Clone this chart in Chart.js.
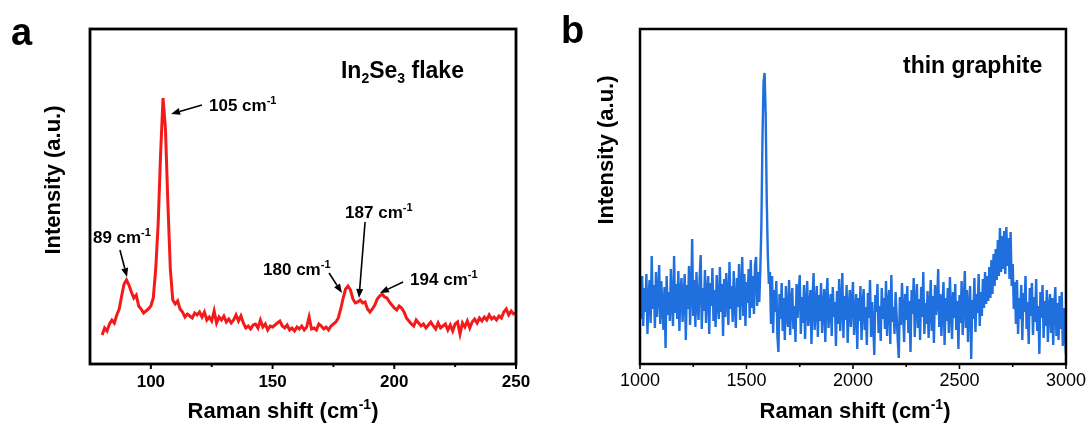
<!DOCTYPE html>
<html lang="en">
<head>
<meta charset="UTF-8" />
<title>Raman spectra - In2Se3 flake and thin graphite</title>
<script src="https://cdn.jsdelivr.net/npm/chart.js"></script>
<style>
  body { margin: 0; background: #fff; }
  .row { display: flex; width: 1092px; height: 425px; }
  canvas { display: block; }
</style>
</head>
<body>
<div class="row">
  <canvas id="chartA" width="546" height="425"></canvas>
  <canvas id="chartB" width="546" height="425"></canvas>
</div>
<script>
// ---- panel a : In2Se3 flake (1 cm-1 steps from 80 to 250) ----
const in2se3Start = 80;
const in2se3Step = 1;
const in2se3Intensity = [
  29, 36, 33, 40, 44, 41, 49, 55, 68, 80,
  84, 79, 72, 66, 69, 58, 55, 51, 53, 55,
  58, 66, 95, 140, 210, 266, 235, 160, 95, 64,
  60, 63, 55, 52, 47, 50, 48, 46, 51, 49,
  52, 47, 52, 44, 47, 43, 53, 41, 47, 44,
  48, 42, 45, 41, 44, 49, 43, 48, 41, 36,
  38, 35, 39, 40, 36, 44, 37, 40, 34, 38,
  37, 39, 41, 43, 38, 36, 39, 34, 36, 33,
  37, 35, 38, 34, 37, 47, 35, 36, 34, 40,
  38, 35, 37, 34, 38, 40, 42, 46, 55, 66,
  75, 78, 74, 65, 61, 62, 64, 61, 62, 55,
  52, 55, 59, 65, 68, 70, 67, 66, 62, 59,
  56, 54, 58, 56, 52, 46, 43, 40, 38, 44,
  41, 38, 40, 36, 39, 42, 38, 35, 41, 36,
  38, 40, 34, 39, 33, 40, 42, 30, 41, 37,
  43, 36, 42, 45, 41, 46, 43, 47, 44, 49,
  45, 47, 44, 48, 46, 52, 55, 49, 53, 50,
  51
];
const in2se3MajorTicks = [100, 150, 200, 250];
const in2se3MinorTicks = [125, 175, 225];
const in2se3PeakLabels = ['89', '105', '180', '187', '194'];

// ---- panel b : thin graphite (5 cm-1 steps from 1000 to 3000) ----
const graphiteStart = 1000;
const graphiteStep = 5;
const graphiteIntensity = [
  70, 45, 88, 38, 76, 52, 90, 30, 66, 84,
  41, 108, 55, 79, 36, 92, 47, 70, 99, 40,
  83, 58, 34, 77, 16, 88, 49, 72, 43, 95,
  60, 38, 108, 51, 80, 45, 93, 33, 74, 86,
  42, 67, 90, 24, 79, 55, 98, 39, 71, 125,
  48, 84, 37, 92, 61, 44, 87, 109, 35, 76,
  53, 94, 41, 70, 88, 30, 81, 58, 96, 43,
  74, 37, 89, 62, 45, 97, 52, 80, 28, 85,
  47, 91, 66, 39, 102, 55, 78, 42, 93, 60,
  36, 86, 57, 100, 44, 73, 107, 48, 90, 38,
  82, 61, 95, 46, 104, 56, 88, 50, 99, 107, 58, 92,
  // G band
  62, 95, 140, 225, 282, 291, 250, 165, 110, 80, 92,
  40, 88, 31, 74, 52, 83, 28,
  12, 70, 45, 81, 33, 66, 24, 78, 50, 37,
  84, 29, 62, 76, 35, 58, 22, 80, 46, 71,
  89, 30, 67, 41, 79, 25, 60, 83, 38, 55,
  74, 20, 65, 91, 34, 57, 78, 27, 69, 43,
  81, 31, 58, 75, 22, 64, 86, 36, 52, 70,
  28, 77, 47, 62, 18, 73, 40, 85, 33, 59,
  91, 26, 68, 44, 79, 21, 56, 74, 37, 63,
  82, 29, 51, 70, 15, 66, 43, 78, 24, 60,
  75, 34, 57, 19, 71, 46, 84, 27, 62, 40,
  9, 69, 52, 80, 31, 58, 23, 76, 45, 66,
  35, 83, 28, 61, 74, 20, 89, 42, 57, 30,
  72, 48, 25, 6, 67, 39, 81, 53, 22, 70,
  44, 78, 31, 63, 12, 74, 50, 86, 27, 59,
  80, 36, 65, 24, 77, 47, 92, 30, 61, 40,
  73, 26, 56, 84, 33, 68, 21, 79, 49, 62,
  95, 37, 70, 28, 58, 82, 19, 66, 43, 76,
  31, 87, 54, 25, 72, 46, 80, 34, 63, 15,
  69, 41, 83, 29, 60, 93, 36, 74, 22, 58,
  78, 5, 64, 45, 86, 32, 70, 51, 90, 38,
  // 2D band
  72, 48, 85, 56, 92, 60, 88, 63, 97, 66,
  104, 70, 110, 78, 115, 84, 124, 88, 136, 92,
  128, 95, 133, 90, 137, 98, 126, 85, 132, 78,
  100, 55, 82, 40,
  84, 30, 66, 45, 79, 24, 71, 52, 88, 35,
  62, 20, 76, 48, 81, 29, 67, 42, 85, 33,
  58, 10, 72, 46, 79, 26, 63, 38, 74, 22,
  55, 70, 31, 66, 19, 58, 77, 28, 61, 24,
  68, 35, 72, 18, 56, 30, 10
];
const graphiteMajorTicks = [1000, 1500, 2000, 2500, 3000];
const graphiteMinorTicks = [1250, 1750, 2250, 2750];

const FONT = '"Liberation Sans", Arial, Helvetica, sans-serif';

// text with sub/superscripts, parts = [[text, ''|'sup'|'sub'], ...]
function drawRich(ctx, parts, x, y, size, align, weight) {
  const wt = weight || 'bold';
  const fontFor = m => `${wt} ${m ? Math.round(size * 0.62) : size}px ${FONT}`;
  let total = 0;
  const widths = parts.map(([t, m]) => {
    ctx.font = fontFor(m);
    const w = ctx.measureText(t).width;
    total += w;
    return w;
  });
  let cx = align === 'center' ? x - total / 2 : align === 'right' ? x - total : x;
  ctx.textAlign = 'left';
  ctx.textBaseline = 'alphabetic';
  parts.forEach(([t, m], i) => {
    ctx.font = fontFor(m);
    const dy = m === 'sup' ? -size * 0.4 : m === 'sub' ? size * 0.22 : 0;
    ctx.fillText(t, cx, y + dy);
    cx += widths[i];
  });
}

function drawArrow(ctx, x1, y1, x2, y2) {
  const ang = Math.atan2(y2 - y1, x2 - x1);
  const head = 9, half = 3.5;
  const bx = x2 - head * Math.cos(ang), by = y2 - head * Math.sin(ang);
  ctx.beginPath(); ctx.moveTo(x1, y1); ctx.lineTo(bx, by); ctx.stroke();
  ctx.beginPath();
  ctx.moveTo(x2, y2);
  ctx.lineTo(bx + half * Math.sin(ang), by - half * Math.cos(ang));
  ctx.lineTo(bx - half * Math.sin(ang), by + half * Math.cos(ang));
  ctx.closePath(); ctx.fill();
}

const ramanTitle = [['Raman shift (cm', ''], ['-1', 'sup'], [')', '']];
const cmLabel = n => [[n + ' cm', ''], ['-1', 'sup']];

// frame, minor/major ticks, titles and labels
function framePlugin(cfg) {
  return {
    id: 'frame',
    afterDraw(chart) {
      const { ctx, chartArea: a, scales: { x, y } } = chart;
      ctx.save();
      ctx.strokeStyle = '#000';
      ctx.fillStyle = '#000';
      ctx.lineWidth = cfg.tickWidth;
      const tick = (v, len) => {
        const px = x.getPixelForValue(v);
        ctx.beginPath(); ctx.moveTo(px, a.bottom); ctx.lineTo(px, a.bottom + len); ctx.stroke();
      };
      cfg.major.forEach(v => tick(v, 5));
      cfg.minor.forEach(v => tick(v, 3));
      ctx.lineWidth = cfg.boxWidth;
      ctx.strokeRect(a.left, a.top, a.right - a.left, a.bottom - a.top);

      // axis titles
      drawRich(ctx, ramanTitle, cfg.xTitle[0], cfg.xTitle[1], 22, 'center');
      ctx.save();
      ctx.translate(cfg.yTitle[0], cfg.yTitle[1]);
      ctx.rotate(-Math.PI / 2);
      drawRich(ctx, [['Intensity (a.u.)', '']], 0, 0, 22, 'center');
      ctx.restore();

      // panel letter
      ctx.font = `bold 38px ${FONT}`;
      ctx.textAlign = 'left';
      ctx.textBaseline = 'alphabetic';
      ctx.fillText(cfg.letter, cfg.letterPos[0], cfg.letterPos[1]);

      // labels placed in data coordinates
      cfg.labels.forEach(l => {
        drawRich(ctx, l.parts, x.getPixelForValue(l.at[0]), y.getPixelForValue(l.at[1]), l.size, l.align || 'left');
      });
      ctx.lineWidth = 1.6;
      cfg.arrows.forEach(ar => {
        drawArrow(ctx, x.getPixelForValue(ar.from[0]), y.getPixelForValue(ar.from[1]),
                       x.getPixelForValue(ar.to[0]), y.getPixelForValue(ar.to[1]));
      });
      ctx.restore();
    }
  };
}

function makeChart(id, points, color, lineWidth, xMin, xMax, major, tickFont, tickPad, padding, frame) {
  return new Chart(document.getElementById(id), {
    type: 'line',
    data: {
      datasets: [{
        data: points,
        borderColor: color,
        borderWidth: lineWidth,
        pointRadius: 0,
        tension: 0,
        fill: false
      }]
    },
    options: {
      responsive: false,
      animation: false,
      events: [],
      layout: { padding },
      plugins: { legend: { display: false }, tooltip: { enabled: false } },
      scales: {
        x: {
          type: 'linear',
          min: xMin,
          max: xMax,
          afterBuildTicks: s => { s.ticks = major.map(v => ({ value: v })); },
          afterFit: s => { s.height = 61; },
          grid: { display: false, drawTicks: false },
          border: { display: false },
          ticks: {
            color: '#000',
            font: tickFont,
            padding: tickPad,
            maxRotation: 0,
            autoSkip: false,
            callback: v => String(v)
          }
        },
        y: { display: false, min: 0, max: 335 }
      }
    },
    plugins: [framePlugin(frame)]
  });
}

const in2se3Points = in2se3Intensity.map((v, i) => ({ x: in2se3Start + i * in2se3Step, y: v }));
const graphitePoints = graphiteIntensity.map((v, i) => ({ x: graphiteStart + i * graphiteStep, y: v }));

// label / arrow placement for panel a (data units)
const peakLabelAt = [[76.2, 121], [123.9, 253], [146.1, 89], [179.8, 146], [206.5, 79]];
const peakArrows = [
  { from: [87.3, 114], to: [90.2, 87] },
  { from: [121.0, 259], to: [108.3, 250] },
  { from: [173.2, 91], to: [178.5, 71] },
  { from: [188.0, 142], to: [185.5, 66] },
  { from: [203.6, 82], to: [194.1, 71] }
];

makeChart('chartA', in2se3Points, '#f51a1a', 3, 75, 250, in2se3MajorTicks,
  { family: FONT, size: 17, weight: 'bold' }, 8,
  { left: 90, top: 29, right: 30, bottom: 0 },
  {
    major: in2se3MajorTicks, minor: in2se3MinorTicks,
    tickWidth: 2, boxWidth: 2.8,
    xTitle: [283, 418], yTitle: [60, 180],
    letter: 'a', letterPos: [11, 45],
    labels: [
      { parts: [['In', ''], ['2', 'sub'], ['Se', ''], ['3', 'sub'], [' flake', '']], at: [178.1, 286], size: 23 }
    ].concat(in2se3PeakLabels.map((t, i) => ({ parts: cmLabel(t), at: peakLabelAt[i], size: 17 }))),
    arrows: peakArrows
  });

makeChart('chartB', graphitePoints, '#1f6fde', 2.4, 1000, 3000, graphiteMajorTicks,
  { family: FONT, size: 18, weight: 'normal' }, 6,
  { left: 94, top: 29, right: 26, bottom: 0 },
  {
    major: graphiteMajorTicks, minor: graphiteMinorTicks,
    tickWidth: 1.6, boxWidth: 2.5,
    xTitle: [309, 418], yTitle: [67, 150],
    letter: 'b', letterPos: [15, 43],
    labels: [
      { parts: [['thin graphite', '']], at: [2234.8, 291], size: 23 }
    ],
    arrows: []
  });
</script>
</body>
</html>
